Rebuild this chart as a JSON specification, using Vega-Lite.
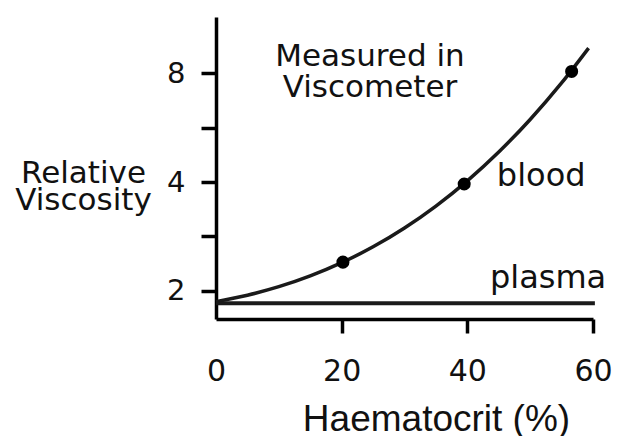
{
  "$schema": "https://vega.github.io/schema/vega-lite/v6.json",
  "width": 377,
  "height": 302,
  "autosize": {"type": "none"},
  "padding": {"left": 216, "top": 17, "right": 30, "bottom": 117},
  "background": "white",
  "config": {"view": {"stroke": null}, "font": "DejaVu Sans"},
  "datasets": {
    "curve": [
      {"series": "blood", "hct": 0, "visc": 1.866},
      {"series": "blood", "hct": 5, "visc": 1.944},
      {"series": "blood", "hct": 10, "visc": 2.052},
      {"series": "blood", "hct": 15, "visc": 2.198},
      {"series": "blood", "hct": 20, "visc": 2.392},
      {"series": "blood", "hct": 25, "visc": 2.646},
      {"series": "blood", "hct": 30, "visc": 2.984},
      {"series": "blood", "hct": 35, "visc": 3.431},
      {"series": "blood", "hct": 40, "visc": 4.03},
      {"series": "blood", "hct": 45, "visc": 4.843},
      {"series": "blood", "hct": 50, "visc": 5.961},
      {"series": "blood", "hct": 55, "visc": 7.527},
      {"series": "blood", "hct": 59.3, "visc": 9.4},
      {"series": "plasma", "hct": 0, "visc": 1.845},
      {"series": "plasma", "hct": 60.3, "visc": 1.845}
    ],
    "points": [
      {"hct": 20.2, "visc": 2.4},
      {"hct": 39.5, "visc": 3.95},
      {"hct": 56.6, "visc": 8.1}
    ],
    "labels": [
      {"text": "blood", "hct": 44.7, "visc": 3.9},
      {"text": "plasma", "hct": 43.6, "visc": 2.03}
    ],
    "note": [
      {"text": "Measured in\nViscometer", "hct": 24.5, "visc": 8.4}
    ]
  },
  "encoding": {
    "x": {
      "field": "hct",
      "type": "quantitative",
      "scale": {"domain": [0, 60], "nice": false, "zero": false},
      "axis": {
        "values": [0, 20, 40, 60],
        "grid": false,
        "domainColor": "#000",
        "domainWidth": 3.5,
        "tickColor": "#000",
        "tickWidth": 3.5,
        "tickSize": 14,
        "tickOpacity": {"expr": "datum.value == 0 ? 0 : 1"},
        "labelFlush": false,
        "labelOverlap": false,
        "labelFont": "DejaVu Sans",
        "labelFontSize": 30,
        "labelColor": "#111",
        "labelPadding": 23,
        "title": "Haematocrit (%)",
        "titleFont": "Liberation Sans",
        "titleFontSize": 37,
        "titleFontWeight": "normal",
        "titleColor": "#111",
        "titleX": 220,
        "titleY": 111,
        "titleAlign": "center",
        "titleBaseline": "alphabetic"
      }
    },
    "y": {
      "field": "visc",
      "type": "quantitative",
      "scale": {"type": "log", "base": 2, "domain": [1.67, 11.46], "nice": false, "zero": false},
      "axis": {
        "values": [2, 2.8284, 4, 5.6569, 8],
        "labelExpr": "indexof([2,4,8], datum.value) >= 0 ? datum.value + '' : ''",
        "grid": false,
        "domainColor": "#000",
        "domainWidth": 3.5,
        "tickColor": "#000",
        "tickWidth": 3.5,
        "tickSize": 15,
        "labelFlush": false,
        "labelOverlap": false,
        "labelFont": "DejaVu Sans",
        "labelFontSize": 29,
        "labelColor": "#111",
        "labelPadding": 16,
        "title": ["Relative", "Viscosity"],
        "titleFont": "DejaVu Sans",
        "titleFontSize": 31,
        "titleFontWeight": "normal",
        "titleColor": "#111",
        "titleAngle": 0,
        "titleX": -133,
        "titleY": 165,
        "titleAlign": "center",
        "titleBaseline": "alphabetic",
        "titleLineHeight": 27.5
      }
    }
  },
  "layer": [
    {
      "data": {"name": "curve"},
      "mark": {"type": "line", "interpolate": "monotone", "color": "#1a1a1a"},
      "encoding": {
        "detail": {"field": "series", "type": "nominal"},
        "strokeWidth": {"field": "series", "type": "nominal", "scale": {"domain": ["blood", "plasma"], "range": [3.5, 4]}, "legend": null}
      }
    },
    {
      "data": {"name": "points"},
      "mark": {"type": "point", "filled": true, "color": "#000", "size": 170, "opacity": 1}
    },
    {
      "data": {"name": "labels"},
      "mark": {"type": "text", "align": "left", "baseline": "alphabetic", "fontSize": 32, "font": "DejaVu Sans", "color": "#111"},
      "encoding": {"text": {"field": "text"}}
    },
    {
      "data": {"name": "note"},
      "mark": {"type": "text", "align": "center", "baseline": "alphabetic", "fontSize": 31, "font": "DejaVu Sans", "color": "#111", "lineBreak": "\n", "lineHeight": 31.6},
      "encoding": {"text": {"field": "text"}}
    },
    {
      "data": {"values": [{}]},
      "mark": {"type": "rule", "color": "#000", "strokeWidth": 3.5},
      "encoding": {
        "x": {"datum": 0},
        "x2": {"datum": 2.4},
        "y": {"datum": 11.46}
      }
    }
  ]
}
